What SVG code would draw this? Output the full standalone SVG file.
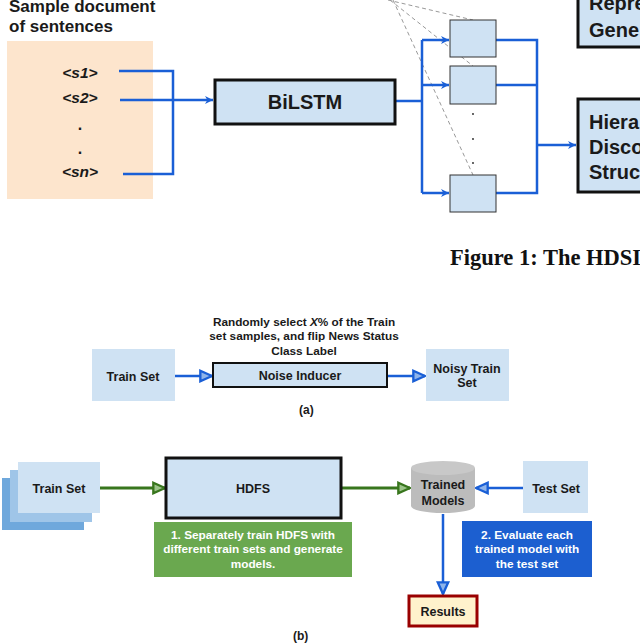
<svg xmlns="http://www.w3.org/2000/svg" width="640" height="644" viewBox="0 0 640 644">
<defs>
<style>
.t{font-family:"Liberation Sans",Arial,sans-serif;font-weight:bold;fill:#1a1a1a}
.w{font-family:"Liberation Sans",Arial,sans-serif;font-weight:bold;fill:#ffffff}
.blue{stroke:#1a5fd6;stroke-width:2.5;fill:none}
.green{stroke:#38761d;stroke-width:3;fill:none}
.lb{fill:#cfe2f3}
.dash{stroke:#999;stroke-width:1;stroke-dasharray:4,3;fill:none}
</style>
<marker id="ab" viewBox="0 0 10 10" refX="10" refY="5" markerWidth="8" markerHeight="8" markerUnits="userSpaceOnUse" orient="auto">
<path d="M0,0 L10,5 L0,10 L3,5 Z" fill="#1a5fd6"/>
</marker>
<marker id="ob" viewBox="0 0 12 12" refX="11" refY="6" markerWidth="14" markerHeight="14" markerUnits="userSpaceOnUse" orient="auto">
<path d="M1,1.5 L11,6 L1,10.5 Z" fill="#8fb4ea" stroke="#1a5fd6" stroke-width="2"/>
</marker>
<marker id="og" viewBox="0 0 12 12" refX="11" refY="6" markerWidth="14" markerHeight="14" markerUnits="userSpaceOnUse" orient="auto">
<path d="M1,1.5 L11,6 L1,10.5 Z" fill="#9cc48a" stroke="#38761d" stroke-width="2"/>
</marker>
</defs>
<rect width="640" height="644" fill="#ffffff"/>

<g id="doc">
<text class="t" x="9" y="12" font-size="17">Sample document</text>
<text class="t" x="9" y="32" font-size="17">of sentences</text>
<rect x="7" y="41" width="146" height="158" fill="#fde5cd"/>
<text class="t" x="80" y="78" font-size="15.5" font-style="italic" text-anchor="middle">&lt;s1&gt;</text>
<text class="t" x="80" y="103" font-size="15.5" font-style="italic" text-anchor="middle">&lt;s2&gt;</text>
<text class="t" x="80" y="130" font-size="16" text-anchor="middle">.</text>
<text class="t" x="80" y="154" font-size="16" text-anchor="middle">.</text>
<text class="t" x="80" y="177" font-size="15.5" font-style="italic" text-anchor="middle">&lt;sn&gt;</text>
</g>

<g id="dashes">
<path class="dash" d="M388,0 L473,20"/>
<path class="dash" d="M390,0 L473,66"/>
<path class="dash" d="M393,0 L473,175"/>
</g>

<g id="connectors">
<path class="blue" d="M119,71 L173,71 L173,174 L123,174"/>
<path class="blue" d="M120,100 L213,100" marker-end="url(#ab)"/>
<path class="blue" d="M395,101 L422,101"/>
<path class="blue" d="M422,40 L422,193"/>
<path class="blue" d="M422,40 L449,40" marker-end="url(#ab)"/>
<path class="blue" d="M422,85 L449,85" marker-end="url(#ab)"/>
<path class="blue" d="M422,193 L449,193" marker-end="url(#ab)"/>
<path class="blue" d="M496,40 L537,40 L537,193 L496,193"/>
<path class="blue" d="M496,85 L537,85"/>
<path class="blue" d="M537,145 L576,145" marker-end="url(#ab)"/>

<path class="blue" d="M175,376 L212,376" marker-end="url(#ob)"/>
<path class="blue" d="M387,376 L425,376" marker-end="url(#ob)"/>

<path class="green" d="M100,488 L165,488" marker-end="url(#og)"/>
<path class="green" d="M341,488 L410,488" marker-end="url(#og)"/>
<path class="blue" d="M523,488 L476,488" marker-end="url(#ob)"/>
<path class="blue" d="M443,514 L443,594" marker-end="url(#ob)"/>
</g>

<g id="bilstm">
<rect x="215" y="80" width="180" height="44" class="lb" stroke="#111" stroke-width="3"/>
<text class="t" x="305" y="109" font-size="20" text-anchor="middle">BiLSTM</text>
</g>
<g id="box1"><rect x="450" y="20" width="46" height="37" class="lb" stroke="#333" stroke-width="1"/></g>
<g id="box2"><rect x="450" y="66" width="46" height="38" class="lb" stroke="#333" stroke-width="1"/></g>
<g id="box3"><rect x="450" y="175" width="46" height="37" class="lb" stroke="#333" stroke-width="1"/></g>
<g id="vdots" fill="#222">
<circle cx="473" cy="114" r="0.9"/><circle cx="473" cy="139" r="0.9"/><circle cx="473" cy="163" r="0.9"/>
</g>
<g id="repr">
<rect x="578" y="-10" width="70" height="57" class="lb" stroke="#111" stroke-width="3"/>
<text class="t" x="589" y="10" font-size="20">Repre</text>
<text class="t" x="589" y="37" font-size="20">Gene</text>
</g>
<g id="hier">
<rect x="578" y="99" width="70" height="93" class="lb" stroke="#111" stroke-width="3"/>
<text class="t" x="589" y="129" font-size="20">Hiera</text>
<text class="t" x="589" y="154" font-size="20">Disco</text>
<text class="t" x="589" y="179" font-size="20">Struc</text>
</g>
<text x="450" y="265" font-family="Liberation Serif,'Times New Roman',serif" font-weight="bold" font-size="22.5" fill="#111">Figure 1: The HDSI</text>

<g id="trainA">
<rect x="92" y="349" width="83" height="52" class="lb"/>
<text class="t" x="133" y="381" font-size="12.5" text-anchor="middle">Train Set</text>
</g>
<g id="noise">
<text class="t" x="304" y="326" font-size="11.8" text-anchor="middle">Randomly select <tspan font-style="italic">X</tspan>% of the Train</text>
<text class="t" x="304" y="340" font-size="11.8" text-anchor="middle">set samples, and flip News Status</text>
<text class="t" x="304" y="355" font-size="11.8" text-anchor="middle">Class Label</text>
<rect x="213" y="363" width="174" height="24" class="lb" stroke="#111" stroke-width="2"/>
<text class="t" x="300" y="380" font-size="12.5" text-anchor="middle">Noise Inducer</text>
</g>
<g id="noisy">
<rect x="426" y="349" width="83" height="52" class="lb"/>
<text class="t" x="467" y="373" font-size="12.5" text-anchor="middle">Noisy Train</text>
<text class="t" x="467" y="387" font-size="12.5" text-anchor="middle">Set</text>
</g>
<text class="t" x="299" y="414" font-size="12">(a)</text>

<g id="trainB">
<rect x="2" y="478" width="82" height="52" fill="#6fa8dc"/>
<rect x="10" y="470" width="82" height="52" fill="#9fc5e8"/>
<rect x="18" y="462" width="82" height="51" fill="#cfe2f3"/>
<text class="t" x="59" y="493" font-size="12.5" text-anchor="middle">Train Set</text>
</g>
<g id="hdfs">
<rect x="166" y="458" width="175" height="60" class="lb" stroke="#111" stroke-width="3"/>
<text class="t" x="253" y="493" font-size="12.5" text-anchor="middle">HDFS</text>
</g>
<g id="note1">
<rect x="154" y="522" width="198" height="55" fill="#6aa84f"/>
<text class="w" x="253" y="539" font-size="11.8" text-anchor="middle">1. Separately train HDFS with</text>
<text class="w" x="253" y="553" font-size="11.8" text-anchor="middle">different train sets and generate</text>
<text class="w" x="253" y="568" font-size="11.8" text-anchor="middle">models.</text>
</g>
<g id="models">
<path d="M411,468 L411,506 A32,7 0 0 0 475,506 L475,468 Z" fill="#bcbcbc"/>
<ellipse cx="443" cy="468" rx="32" ry="7" fill="#c8c8c8"/>
<text class="t" x="443" y="489" font-size="12.5" text-anchor="middle">Trained</text>
<text class="t" x="443" y="505" font-size="12.5" text-anchor="middle">Models</text>
</g>
<g id="testset">
<rect x="523" y="461" width="65" height="52" class="lb"/>
<text class="t" x="556" y="493" font-size="12.5" text-anchor="middle">Test Set</text>
</g>
<g id="note2">
<rect x="462" y="521" width="130" height="56" fill="#1c5fd0"/>
<text class="w" x="527" y="539" font-size="11.8" text-anchor="middle">2. Evaluate each</text>
<text class="w" x="527" y="553" font-size="11.8" text-anchor="middle">trained model with</text>
<text class="w" x="527" y="568" font-size="11.8" text-anchor="middle">the test set</text>
</g>
<g id="results">
<rect x="409" y="596" width="68" height="30" fill="#fff2cc" stroke="#990000" stroke-width="3"/>
<text class="t" x="443" y="616" font-size="12.5" text-anchor="middle">Results</text>
</g>
<text class="t" x="293" y="640" font-size="12">(b)</text>
</svg>
